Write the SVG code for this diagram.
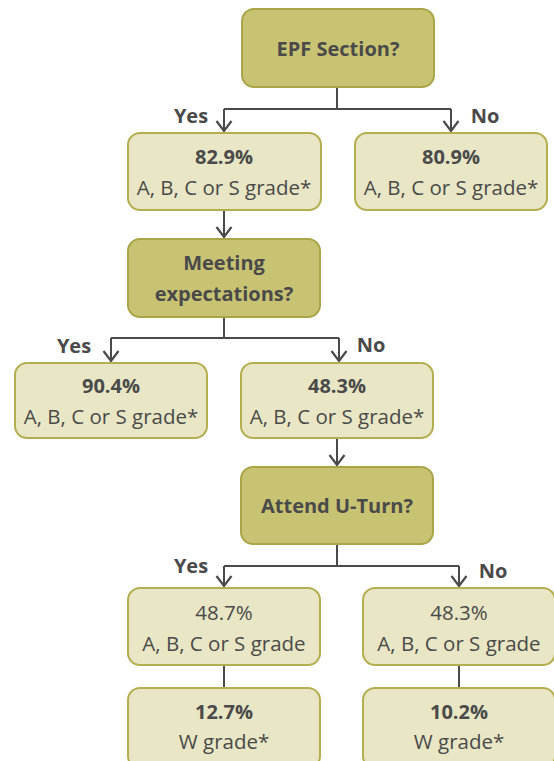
<svg xmlns="http://www.w3.org/2000/svg" width="554" height="761" viewBox="0 0 554 761">
<style>
.q{fill:#c8c372;stroke:#aaa548;stroke-width:2}
.r{fill:#e8e6c4;stroke:#b3ae50;stroke-width:2}
text{font-family:"Open Sans","Liberation Sans",sans-serif;fill:#4a4a4a;text-anchor:middle;font-size:20.5px}
.b{font-weight:bold;font-size:20px}
.c{fill:none;stroke:#4a4a4a;stroke-width:2}
.a{marker-end:url(#ah)}
</style>
<defs>
<marker id="ah" viewBox="0 0 12 18" refX="11" refY="9" markerWidth="12" markerHeight="18" markerUnits="userSpaceOnUse" orient="auto">
<path d="M1 1.5L11 9L1 16.5" fill="none" stroke="#4a4a4a" stroke-width="2.2"/>
</marker>
</defs>
<rect width="554" height="761" fill="#ffffff"/>
<g id="connectors">
<path class="c" d="M337 87V109M224 109H451"/>
<path class="c a" d="M224 109V131"/>
<path class="c a" d="M451 109V131"/>
<path class="c a" d="M224 210V237"/>
<path class="c" d="M224 317V338M111 338H339"/>
<path class="c a" d="M111 338V361"/>
<path class="c a" d="M339 338V361"/>
<path class="c a" d="M337 438V465"/>
<path class="c" d="M337 544V566M224 566H459"/>
<path class="c a" d="M224 566V586"/>
<path class="c a" d="M459 566V586"/>
<path class="c" d="M224 665V688M459 665V688"/>
<text class="b" x="191" y="123">Yes</text>
<text class="b" x="485" y="123">No</text>
<text class="b" x="74" y="353">Yes</text>
<text class="b" x="371" y="352">No</text>
<text class="b" x="191" y="573">Yes</text>
<text class="b" x="493" y="578">No</text>
</g>
<g id="epf">
<rect class="q" x="242" y="9" width="192" height="78" rx="12"/>
<text class="b" x="338" y="56">EPF Section?</text>
</g>
<g id="yes1">
<rect class="r" x="128" y="133" width="193" height="77" rx="12"/>
<text class="b" x="224" y="164">82.9%</text>
<text x="224" y="195">A, B, C or S grade*</text>
</g>
<g id="no1">
<rect class="r" x="355" y="133" width="192" height="77" rx="12"/>
<text class="b" x="451" y="164">80.9%</text>
<text x="451" y="195">A, B, C or S grade*</text>
</g>
<g id="meeting">
<rect class="q" x="128" y="239" width="192" height="78" rx="12"/>
<text class="b" x="224" y="270">Meeting</text>
<text class="b" x="224" y="301">expectations?</text>
</g>
<g id="yes2">
<rect class="r" x="15" y="363" width="192" height="75" rx="12"/>
<text class="b" x="111" y="393">90.4%</text>
<text x="111" y="424">A, B, C or S grade*</text>
</g>
<g id="no2">
<rect class="r" x="241" y="363" width="192" height="75" rx="12"/>
<text class="b" x="337" y="393">48.3%</text>
<text x="337" y="424">A, B, C or S grade*</text>
</g>
<g id="uturn">
<rect class="q" x="241" y="467" width="192" height="77" rx="12"/>
<text class="b" x="337" y="513">Attend U-Turn?</text>
</g>
<g id="yes3">
<rect class="r" x="128" y="588" width="192" height="77" rx="12"/>
<text x="224" y="620">48.7%</text>
<text x="224" y="651">A, B, C or S grade</text>
</g>
<g id="no3">
<rect class="r" x="363" y="588" width="192" height="77" rx="12"/>
<text x="459" y="620">48.3%</text>
<text x="459" y="651">A, B, C or S grade</text>
</g>
<g id="w1">
<rect class="r" x="128" y="688" width="192" height="80" rx="12"/>
<text class="b" x="224" y="719">12.7%</text>
<text x="224" y="749">W grade*</text>
</g>
<g id="w2">
<rect class="r" x="363" y="688" width="192" height="80" rx="12"/>
<text class="b" x="459" y="719">10.2%</text>
<text x="459" y="749">W grade*</text>
</g>
</svg>
